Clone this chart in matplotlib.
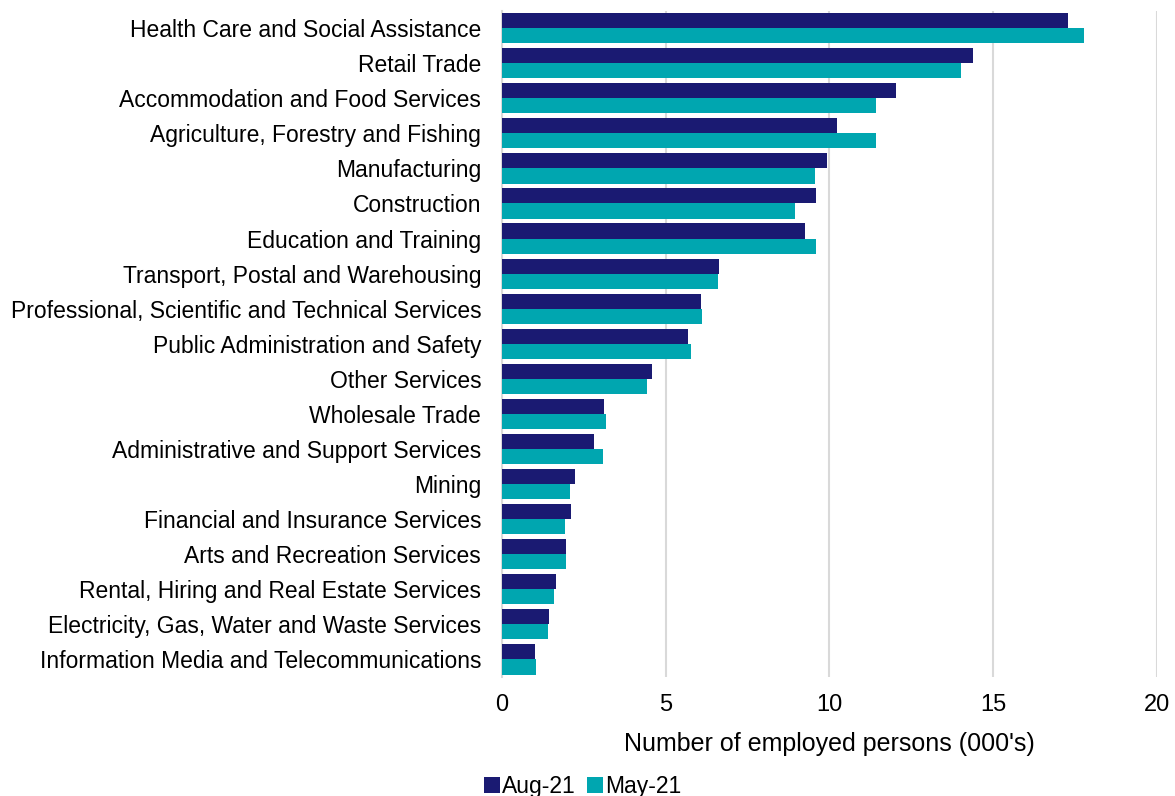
import matplotlib
matplotlib.use("Agg")
import matplotlib.pyplot as plt
import numpy as np

plt.rcParams['font.family'] = ['Liberation Sans', 'DejaVu Sans']

industries = [
    "Health Care and Social Assistance",
    "Retail Trade",
    "Accommodation and Food Services",
    "Agriculture, Forestry and Fishing",
    "Manufacturing",
    "Construction",
    "Education and Training",
    "Transport, Postal and Warehousing",
    "Professional, Scientific and Technical Services",
    "Public Administration and Safety",
    "Other Services",
    "Wholesale Trade",
    "Administrative and Support Services",
    "Mining",
    "Financial and Insurance Services",
    "Arts and Recreation Services",
    "Rental, Hiring and Real Estate Services",
    "Electricity, Gas, Water and Waste Services",
    "Information Media and Telecommunications",
]

aug_21 = [17.28, 14.38, 12.02, 10.24, 9.91, 9.60, 9.25, 6.63, 6.07, 5.68,
          4.59, 3.11, 2.82, 2.22, 2.10, 1.97, 1.66, 1.45, 1.01]
may_21 = [17.76, 14.01, 11.43, 11.43, 9.56, 8.94, 9.58, 6.61, 6.10, 5.76,
          4.42, 3.17, 3.07, 2.09, 1.92, 1.97, 1.58, 1.40, 1.03]

series_labels = ["Aug-21", "May-21"]
xticks = [0, 5, 10, 15, 20]

navy = "#1a1a72"
teal = "#00a6b0"

fig = plt.figure(figsize=(11.75, 7.96), dpi=100)
ax = fig.add_axes([0.4272, 0.1495, 0.5575, 0.8372])

y = np.arange(len(industries))
h = 0.43
ax.barh(y - h / 2, aug_21, height=h, color=navy, label=series_labels[0], zorder=3)
ax.barh(y + h / 2, may_21, height=h, color=teal, label=series_labels[1], zorder=3)

ax.set_ylim(len(industries) - 0.5, -0.5)
ax.set_xlim(0, 20)
ax.set_xticks(xticks)
ax.set_yticks(y)
ax.set_yticklabels(industries)
ax.tick_params(axis='y', length=0, pad=15, labelsize=16.5)
ax.tick_params(axis='x', length=0, pad=12, labelsize=17)

ax.grid(axis='x', color='#d9d9d9', linewidth=1.5, zorder=0)
for s in ['top', 'right', 'bottom']:
    ax.spines[s].set_visible(False)
ax.spines['left'].set_color('#d9d9d9')
ax.spines['left'].set_linewidth(1.5)

ax.set_xlabel("Number of employed persons (000's)", fontsize=18, labelpad=12)

fig.legend(loc='center', bbox_to_anchor=(0.496, 0.012), ncol=2, frameon=False,
           fontsize=16.5, handlelength=0.7, handleheight=0.7, handletextpad=0.1,
           columnspacing=0.5)

fig.savefig("out.png", dpi=100)
